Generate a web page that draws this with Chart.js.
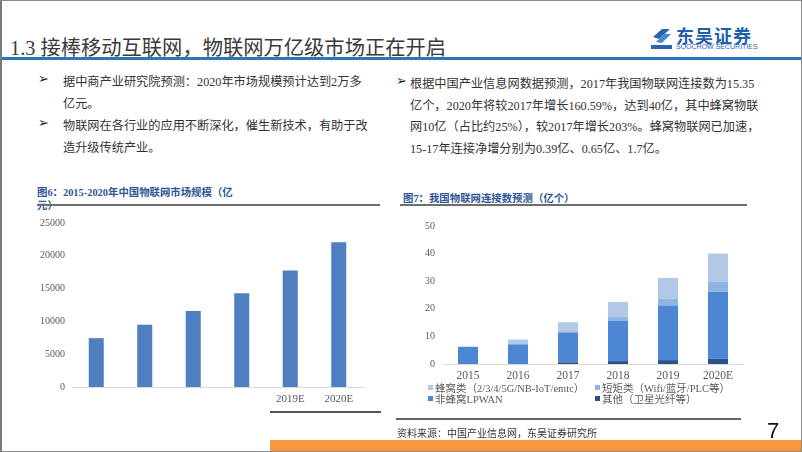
<!DOCTYPE html>
<html>
<head>
<meta charset="utf-8">
<script src="https://cdn.jsdelivr.net/npm/chart.js@4.4.0/dist/chart.umd.min.js"></script>
<style>
  body { margin: 0; background: #fff; }
  #slide { position: relative; width: 802px; height: 452px; overflow: hidden; background: #fff;
    font-family: "Liberation Serif", "Noto Sans CJK SC", serif; color: #333; }
  #frame { position: absolute; left: 0; top: 0; width: 799px; height: 450px;
    border: 1px solid #8a8a8a; border-left: 2px solid #7a7a7a; pointer-events: none; z-index: 5; }
  .abs { position: absolute; white-space: nowrap; }
  #title { left: 10px; top: 31px; font-size: 20.3px; color: #3a3a3a; }
  #topline { left: 0; top: 57px; width: 802px; height: 3px; background: #2e75b6; }
  .txt { font-size: 12.2px; line-height: 21.5px; color: #333; }
  .bul { font-size: 13px; color: #222; }
  .ctitle { font-size: 10.4px; font-weight: bold; color: #2f5597; }
  .gline { height: 2px; background: #6e6e6e; }
  #legend2 { left: 428px; top: 380px; font-size: 10.5px; color: #595959; }
  .lg { position: absolute; white-space: nowrap; }
  .lg i { display: inline-block; width: 5px; height: 5px; margin-right: 2px; vertical-align: 2px; }
  #orange { left: 270px; top: 440px; width: 532px; height: 12px; background: #f7983a; }
</style>
</head>
<body>
<div id="slide">
  <div id="frame"></div>
  <div class="abs" id="title">1.3 接棒移动互联网，物联网万亿级市场正在开启</div>
  <div class="abs" id="topline"></div>

  <!-- logo -->
  <svg class="abs" style="left:650px;top:27px" width="24" height="24" viewBox="0 0 24 24">
    <path d="M3 10 L12 2 L20 2 L9 12 Z" fill="#2b63ad"/>
    <path d="M6 15 L14 7 L21 7 L12 16 Z" fill="#4a8ad4"/>
    <rect x="1" y="18" width="21" height="4" fill="#2b63ad"/>
  </svg>
  <div class="abs" style="left:676px;top:25px;font-size:18px;font-weight:bold;color:#1f5fae;font-family:'Noto Sans CJK SC';letter-spacing:1px;line-height:20px">东吴证券</div>
  <div class="abs" style="left:676px;top:43px;font-size:7px;color:#2b63ad;font-family:'Liberation Sans';line-height:8px">SOOCHOW SECURITIES</div>

  <!-- left text -->
  <div class="abs bul" style="left:38px;top:71px">➢</div>
  <div class="abs txt" style="left:63px;top:72px">据中商产业研究院预测：2020年市场规模预计达到2万多<br>亿元。</div>
  <div class="abs bul" style="left:38px;top:115px">➢</div>
  <div class="abs txt" style="left:63px;top:116px">物联网在各行业的应用不断深化，催生新技术，有助于改<br>造升级传统产业。</div>

  <!-- right text -->
  <div class="abs bul" style="left:396px;top:73px">➢</div>
  <div class="abs txt" style="left:410px;top:74px">根据中国产业信息网数据预测，2017年我国物联网连接数为15.35<br>亿个，2020年将较2017年增长160.59%，达到40亿，其中蜂窝物联<br>网10亿（占比约25%），较2017年增长203%。蜂窝物联网已加速，<br>15-17年连接净增分别为0.39亿、0.65亿、1.7亿。</div>

  <!-- chart 6 -->
  <div class="abs ctitle" style="left:37px;top:184px">图6：2015-2020年中国物联网市场规模（亿</div>
  <div class="abs ctitle" style="left:37px;top:197px">元）</div>
  <div class="abs gline" style="left:37px;top:204px;width:343px"></div>
  <div class="abs" style="left:30px;top:210px;width:350px;height:200px"><canvas id="c1" width="350" height="200"></canvas></div>
  <div class="abs gline" style="left:270px;top:411px;width:111px;background:#555"></div>

  <!-- chart 7 -->
  <div class="abs ctitle" style="left:403px;top:190px">图7：我国物联网连接数预测（亿个）</div>
  <div class="abs gline" style="left:400px;top:204px;width:347px"></div>
  <div class="abs" style="left:400px;top:212px;width:350px;height:180px"><canvas id="c2" width="350" height="180"></canvas></div>
  <div class="abs" id="legend2"></div>
  <div class="abs gline" style="left:396px;top:418px;width:345px;background:#666"></div>
  <div class="abs" style="left:397px;top:425px;font-size:10px;color:#333">资料来源：中国产业信息网，东吴证券研究所</div>

  <div class="abs" style="left:767px;top:418px;font-size:22px;color:#111;font-family:'Liberation Sans'">7</div>
  <div class="abs" id="orange"></div>
</div>

<script>
// 图6 market size (亿元)
const marketLabels = ['', '', '', '', '2019E', '2020E'];
const marketValues = [7450, 9500, 11600, 14300, 17750, 22050];

// 图7 connections (亿个)
const connYears = ['2015', '2016', '2017', '2018', '2019', '2020E'];
const otherVals = [0, 0, 0.6, 1.05, 1.4, 1.9];
const lpwanVals = [6.25, 7.1, 10.8, 14.55, 19.8, 24.3];
const shortVals = [0, 0, 0.45, 1.4, 2.4, 3.7];
const cellVals = [0, 1.75, 3.3, 5.5, 7.6, 10.1];

const seriesNames = ['蜂窝类（2/3/4/5G/NB-IoT/emtc）', '短矩类（Wifi/蓝牙/PLC等）', '非蜂窝LPWAN', '其他（卫星光纤等）'];
const seriesColors = ['#b3c8e6', '#8fb3e2', '#4d87d3', '#2d4f8c'];

const tickFont = { family: 'Liberation Serif', size: 10 };
const plain = v => String(v);

new Chart(document.getElementById('c1').getContext('2d'), {
  type: 'bar',
  data: {
    labels: marketLabels,
    datasets: [{
      data: marketValues,
      backgroundColor: '#4f7fc0',
      barPercentage: 0.31,
      categoryPercentage: 1
    }]
  },
  options: {
    responsive: false,
    animation: false,
    layout: { padding: { top: 7, right: 17, left: 0, bottom: 0 } },
    plugins: { legend: { display: false }, tooltip: { enabled: false } },
    scales: {
      x: {
        grid: { display: false, drawTicks: false },
        border: { display: true, color: '#d9d9d9' },
        ticks: { color: '#595959', font: { family: 'Liberation Serif', size: 11 }, padding: 6 },
        afterFit: s => { s.height = 23; }
      },
      y: {
        min: 0, max: 25000,
        grid: { display: false, drawTicks: false },
        border: { display: false },
        ticks: { stepSize: 5000, color: '#595959', font: tickFont, padding: 7, callback: plain },
        afterFit: s => { s.width = 42; }
      }
    }
  }
});

const stackSets = [
  { label: seriesNames[3], data: otherVals, backgroundColor: seriesColors[3] },
  { label: seriesNames[2], data: lpwanVals, backgroundColor: seriesColors[2] },
  { label: seriesNames[1], data: shortVals, backgroundColor: seriesColors[1] },
  { label: seriesNames[0], data: cellVals, backgroundColor: seriesColors[0] }
].map(d => Object.assign(d, { barPercentage: 0.4, categoryPercentage: 1 }));

new Chart(document.getElementById('c2').getContext('2d'), {
  type: 'bar',
  data: { labels: connYears, datasets: stackSets },
  options: {
    responsive: false,
    animation: false,
    layout: { padding: { top: 11, right: 7, left: 0, bottom: 0 } },
    plugins: { legend: { display: false }, tooltip: { enabled: false } },
    scales: {
      x: {
        stacked: true,
        grid: { display: false, drawTicks: false },
        border: { display: true, color: '#d9d9d9' },
        ticks: { color: '#595959', font: { family: 'Liberation Serif', size: 11.5 }, padding: 5 },
        afterFit: s => { s.height = 28; }
      },
      y: {
        stacked: true,
        min: 0, max: 50,
        grid: { display: false, drawTicks: false },
        border: { display: false },
        ticks: { stepSize: 10, color: '#595959', font: tickFont, padding: 8, callback: plain },
        afterFit: s => { s.width = 43; }
      }
    }
  }
});

// legend in two columns, same order as the reference
const lg = document.getElementById('legend2');
const pos = [[0, 0], [167, 0], [0, 11], [167, 11]];
seriesNames.forEach((name, i) => {
  const d = document.createElement('div');
  d.className = 'lg';
  d.style.left = pos[i][0] + 'px';
  d.style.top = pos[i][1] + 'px';
  d.innerHTML = '<i style="background:' + seriesColors[i] + '"></i>' + name;
  lg.appendChild(d);
});
</script>
</body>
</html>
